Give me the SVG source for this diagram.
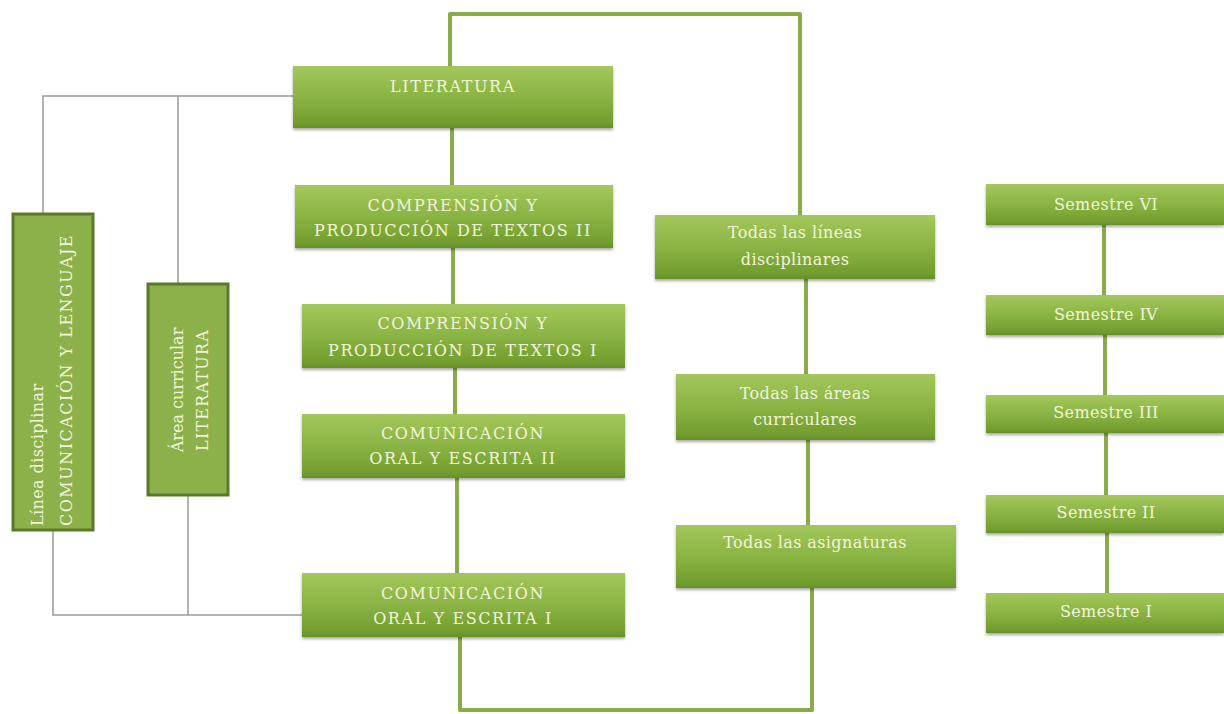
<svg xmlns="http://www.w3.org/2000/svg" width="1224" height="714" viewBox="0 0 1224 714">
<defs>
<linearGradient id="g" x1="0" y1="0" x2="0" y2="1">
<stop offset="0" stop-color="#a3c75c"/>
<stop offset="0.5" stop-color="#8ab443"/>
<stop offset="0.92" stop-color="#729d2e"/>
<stop offset="1" stop-color="#66902a"/>
</linearGradient>
<filter id="sh" x="-5%" y="-10%" width="110%" height="130%">
<feGaussianBlur in="SourceAlpha" stdDeviation="1.5"/>
<feOffset dx="0" dy="2" result="b"/>
<feComponentTransfer><feFuncA type="linear" slope="0.35"/></feComponentTransfer>
<feMerge><feMergeNode/><feMergeNode in="SourceGraphic"/></feMerge>
</filter>
</defs>
<style>
.box{fill:url(#g);filter:url(#sh)}
.vbox{fill:#8cb14b;stroke:#5a7a2a;stroke-width:3}
.t{font-family:"DejaVu Serif","Liberation Serif",serif;font-size:16px;fill:#f2f5dc;text-anchor:middle;letter-spacing:1.6px}
.s{font-family:"DejaVu Serif","Liberation Serif",serif;font-size:16px;fill:#f2f5dc;text-anchor:middle;letter-spacing:0.4px}
.vt{font-family:"DejaVu Serif","Liberation Serif",serif;font-size:16px;fill:#f2f5dc}
.thick{fill:none;stroke:#8aab4a;stroke-width:4;stroke-linejoin:round}
.thin{fill:none;stroke:#9a9a9a;stroke-width:1.5}
</style>
<rect width="1224" height="714" fill="#ffffff"/>
<g id="connectors">
<polyline class="thick" points="450,66 450,14 800,14 800,215"/>
<line class="thick" x1="452" y1="128" x2="452" y2="185"/>
<line class="thick" x1="453" y1="248" x2="453" y2="304"/>
<line class="thick" x1="455" y1="368" x2="455" y2="414"/>
<line class="thick" x1="457" y1="478" x2="457" y2="573"/>
<polyline class="thick" points="460,637 460,710 812,710 812,588"/>
<line class="thick" x1="806" y1="279" x2="806" y2="374"/>
<line class="thick" x1="808" y1="440" x2="808" y2="525"/>
<line class="thick" x1="1104" y1="225" x2="1104" y2="295"/>
<line class="thick" x1="1105" y1="335" x2="1105" y2="395"/>
<line class="thick" x1="1106" y1="433" x2="1106" y2="495"/>
<line class="thick" x1="1107" y1="533" x2="1107" y2="593"/>
<polyline class="thin" points="293,96 43,96 43,213"/>
<line class="thin" x1="178" y1="96" x2="178" y2="283"/>
<polyline class="thin" points="302,615 53,615 53,530"/>
<line class="thin" x1="188" y1="495" x2="188" y2="615"/>
</g>
<g id="literatura">
<rect class="box" x="293" y="66" width="320" height="62"/>
<text class="t" x="453" y="92" letter-spacing="2.6">LITERATURA</text>
</g>
<g id="cpt2">
<rect class="box" x="295" y="185" width="318" height="63"/>
<text class="t" x="453" y="211">COMPRENSIÓN Y</text>
<text class="t" x="453" y="236">PRODUCCIÓN DE TEXTOS II</text>
</g>
<g id="cpt1">
<rect class="box" x="302" y="304" width="323" height="64"/>
<text class="t" x="463" y="329">COMPRENSIÓN Y</text>
<text class="t" x="463" y="356">PRODUCCIÓN DE TEXTOS I</text>
</g>
<g id="coe2">
<rect class="box" x="302" y="414" width="323" height="64"/>
<text class="t" x="463" y="439">COMUNICACIÓN</text>
<text class="t" x="463" y="464">ORAL Y ESCRITA II</text>
</g>
<g id="coe1">
<rect class="box" x="302" y="573" width="323" height="64"/>
<text class="t" x="463" y="599">COMUNICACIÓN</text>
<text class="t" x="463" y="624">ORAL Y ESCRITA I</text>
</g>
<g id="lineas">
<rect class="box" x="655" y="215" width="280" height="64"/>
<text class="s" x="795" y="238">Todas las líneas</text>
<text class="s" x="795" y="265">disciplinares</text>
</g>
<g id="areas">
<rect class="box" x="676" y="374" width="259" height="66"/>
<text class="s" x="805" y="399">Todas las áreas</text>
<text class="s" x="805" y="425">curriculares</text>
</g>
<g id="asignaturas">
<rect class="box" x="676" y="525" width="280" height="63"/>
<text class="s" x="815" y="548">Todas las asignaturas</text>
</g>
<g id="sem6">
<rect class="box" x="986" y="184" width="238" height="41"/>
<text class="s" x="1106" y="210">Semestre VI</text>
</g>
<g id="sem4">
<rect class="box" x="986" y="295" width="238" height="40"/>
<text class="s" x="1106" y="320">Semestre IV</text>
</g>
<g id="sem3">
<rect class="box" x="986" y="395" width="238" height="38"/>
<text class="s" x="1106" y="418">Semestre III</text>
</g>
<g id="sem2">
<rect class="box" x="986" y="495" width="238" height="38"/>
<text class="s" x="1106" y="518">Semestre II</text>
</g>
<g id="sem1">
<rect class="box" x="986" y="593" width="238" height="40"/>
<text class="s" x="1106" y="617">Semestre I</text>
</g>
<g id="linea-disciplinar">
<rect class="vbox" x="13" y="214" width="80" height="316"/>
<text class="vt" transform="translate(43,526) rotate(-90)" letter-spacing="0.4">Línea disciplinar</text>
<text class="vt" transform="translate(72,526) rotate(-90)" letter-spacing="1.5">COMUNICACIÓN Y LENGUAJE</text>
</g>
<g id="area-curricular">
<rect class="vbox" x="148" y="284" width="80" height="211"/>
<text class="vt" text-anchor="middle" transform="translate(183,390) rotate(-90)">Área curricular</text>
<text class="vt" text-anchor="middle" transform="translate(208,390) rotate(-90)" letter-spacing="1.2">LITERATURA</text>
</g>
</svg>
